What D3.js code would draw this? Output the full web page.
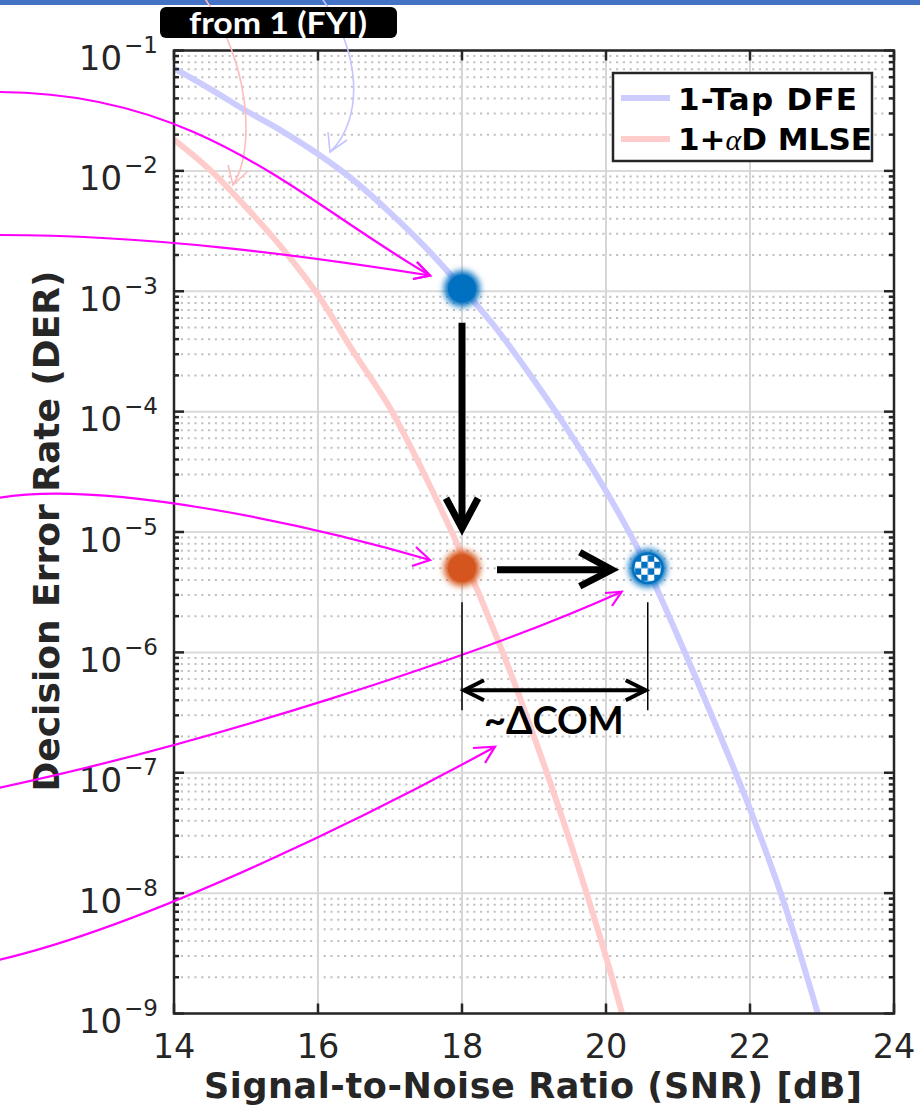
<!DOCTYPE html>
<html>
<head>
<meta charset="utf-8">
<script src="https://cdn.jsdelivr.net/npm/d3@7"></script>
<style>
  html, body { margin: 0; padding: 0; background: #ffffff; }
  svg { display: block; }
</style>
</head>
<body>
<svg id="chart" width="920" height="1117"></svg>
<script>
// ---------------- DATA ----------------
const snrDFE  = [14, 14.5, 15, 15.5, 16, 16.5, 17, 17.5, 18, 18.5, 19, 19.5, 20, 20.5, 21, 21.5, 22, 22.5, 23];
const derDFE  = [7.1e-2, 4.8e-2, 3.16e-2, 2.14e-2, 1.38e-2, 8.3e-3, 4.5e-3, 2.29e-3, 1.07e-3, 4.7e-4, 1.82e-4, 6.6e-5, 2.19e-5, 6.2e-6, 1.35e-6, 2.7e-7, 5.0e-8, 7.4e-9, 7.6e-10];
const snrMLSE = [14, 14.5, 15, 15.5, 16, 16.5, 17, 17.5, 18, 18.5, 19, 19.5, 20, 20.5];
const derMLSE = [1.82e-2, 1.02e-2, 5.0e-3, 2.29e-3, 9.3e-4, 3.09e-4, 1.07e-4, 2.82e-5, 6.5e-6, 1.26e-6, 2.0e-7, 2.69e-8, 2.95e-9, 2.5e-10];
const seriesNames = ["1-Tap DFE", "1+αD MLSE"];

// highlighted operating points: [snr, der]
const pointDFE   = [18, 1.05e-3];
const pointMLSE  = [18, 5.0e-6];
const pointEquiv = [20.58, 5.0e-6];

const xTicks = [14, 16, 18, 20, 22, 24];
const yDecades = [-9, -8, -7, -6, -5, -4, -3, -2, -1];
const xLabel = "Signal-to-Noise Ratio (SNR) [dB]";
const yLabel = "Decision Error Rate (DER)";

// ---------------- LAYOUT ----------------
const svg = d3.select("#chart");
const L = 174, R = 894, T = 50.5, B = 1013.5;
const x = d3.scaleLinear().domain([14, 24]).range([L, R]);
const y = d3.scaleLog().domain([1e-9, 1e-1]).range([B, T]);
const axisCol = "#262626";
const colDFE = "#ccccff", colMLSE = "#ffcccc";

const defs = svg.append("defs");
defs.append("clipPath").attr("id", "plotclip")
  .append("rect").attr("x", L).attr("y", T).attr("width", R - L).attr("height", B - T);
const glow = defs.append("filter").attr("id", "glow")
  .attr("x", "-80%").attr("y", "-80%").attr("width", "260%").attr("height", "260%");
glow.append("feGaussianBlur").attr("stdDeviation", 3.4);
const pat = defs.append("pattern").attr("id", "checker")
  .attr("patternUnits", "userSpaceOnUse").attr("width", 13).attr("height", 13)
  .attr("x", x(pointEquiv[0]) - 6.5).attr("y", y(pointEquiv[1]) - 6.5);
pat.append("rect").attr("width", 13).attr("height", 13).attr("fill", "#ffffff");
pat.append("rect").attr("width", 6.5).attr("height", 6.5).attr("fill", "#0070c0");
pat.append("rect").attr("x", 6.5).attr("y", 6.5).attr("width", 6.5).attr("height", 6.5).attr("fill", "#0070c0");

// top ribbon
svg.append("rect").attr("x", 0).attr("y", 0).attr("width", 920).attr("height", 5).attr("fill", "#4472c4");

// ---------------- GRID ----------------
const grid = svg.append("g");
const minorVals = [];
yDecades.slice(0, -1).forEach(e => { for (let m = 2; m <= 9; m++) minorVals.push(m * Math.pow(10, e)); });
grid.selectAll(".minor").data(minorVals).join("line")
  .attr("x1", L).attr("x2", R).attr("y1", d => y(d)).attr("y2", d => y(d))
  .attr("stroke", "#c2c2c2").attr("stroke-width", 2).attr("stroke-dasharray", "2.2 4.6");
grid.selectAll(".majy").data(yDecades).join("line")
  .attr("x1", L).attr("x2", R).attr("y1", d => y(Math.pow(10, d))).attr("y2", d => y(Math.pow(10, d)))
  .attr("stroke", "#dadada").attr("stroke-width", 2);
grid.selectAll(".majx").data(xTicks).join("line")
  .attr("x1", d => x(d)).attr("x2", d => x(d)).attr("y1", T).attr("y2", B)
  .attr("stroke", "#d6d6d6").attr("stroke-width", 2);

// ---------------- CURVES ----------------
const line = d3.line().x(d => x(d[0])).y(d => y(d[1])).curve(d3.curveMonotoneX);
const curves = svg.append("g").attr("clip-path", "url(#plotclip)");
curves.append("path").datum(d3.zip(snrDFE, derDFE)).attr("d", line)
  .attr("fill", "none").attr("stroke", colDFE).attr("stroke-width", 6);
curves.append("path").datum(d3.zip(snrMLSE, derMLSE)).attr("d", line)
  .attr("fill", "none").attr("stroke", colMLSE).attr("stroke-width", 6);

// ---------------- AXES BOX & TICKS ----------------
const ax = svg.append("g").attr("stroke", axisCol).attr("stroke-width", 2.5);
ax.append("rect").attr("x", L).attr("y", T).attr("width", R - L).attr("height", B - T).attr("fill", "none");
xTicks.forEach(t => {
  ax.append("line").attr("x1", x(t)).attr("x2", x(t)).attr("y1", B).attr("y2", B - 10);
  ax.append("line").attr("x1", x(t)).attr("x2", x(t)).attr("y1", T).attr("y2", T + 10);
});
yDecades.forEach(e => {
  const yy = y(Math.pow(10, e));
  ax.append("line").attr("x1", L).attr("x2", L + 10).attr("y1", yy).attr("y2", yy);
  ax.append("line").attr("x1", R).attr("x2", R - 10).attr("y1", yy).attr("y2", yy);
});
minorVals.forEach(v => {
  const yy = y(v);
  ax.append("line").attr("x1", L).attr("x2", L + 5).attr("y1", yy).attr("y2", yy);
  ax.append("line").attr("x1", R).attr("x2", R - 5).attr("y1", yy).attr("y2", yy);
});

// tick labels
const fontTick = "'DejaVu Sans', sans-serif";
svg.append("g").selectAll("text").data(xTicks).join("text")
  .attr("x", d => x(d)).attr("y", 1058).attr("text-anchor", "middle")
  .attr("font-family", fontTick).attr("font-size", 33.5).attr("fill", axisCol)
  .text(d => d);
const yl = svg.append("g").selectAll("text").data(yDecades).join("text")
  .attr("x", 158).attr("y", d => y(Math.pow(10, d)) + 19.5).attr("text-anchor", "end")
  .attr("font-family", fontTick).attr("fill", axisCol);
yl.append("tspan").attr("font-size", 34).text("10");
yl.append("tspan").attr("font-size", 23).attr("dy", -17).attr("dx", 2).text(d => "\u2212" + Math.abs(d));

// axis labels
svg.append("text").attr("x", (L + R) / 2 - 1).attr("y", 1098).attr("text-anchor", "middle")
  .attr("font-family", fontTick).attr("font-weight", "bold").attr("font-size", 35).attr("fill", axisCol)
  .attr("textLength", 658).attr("lengthAdjust", "spacing")
  .text(xLabel);
svg.append("text").attr("transform", "translate(59,531) rotate(-90)").attr("text-anchor", "middle")
  .attr("font-family", fontTick).attr("font-weight", "bold").attr("font-size", 36).attr("fill", axisCol)
  .text(yLabel);

// ---------------- LEGEND ----------------
const lg = svg.append("g");
lg.append("rect").attr("x", 613).attr("y", 73).attr("width", 259).attr("height", 88)
  .attr("fill", "#ffffff").attr("stroke", axisCol).attr("stroke-width", 2.5);
[[colDFE, 98], [colMLSE, 139]].forEach(([c, yy]) => {
  lg.append("line").attr("x1", 621).attr("x2", 670).attr("y1", yy).attr("y2", yy)
    .attr("stroke", c).attr("stroke-width", 6);
});
lg.append("text").attr("x", 678).attr("y", 110).attr("font-family", fontTick).attr("font-weight", "bold")
  .attr("font-size", 31).attr("fill", "#000")
  .attr("textLength", 179).attr("lengthAdjust", "spacing").text(seriesNames[0]);
const t2 = lg.append("text").attr("x", 678).attr("y", 150).attr("font-family", fontTick).attr("font-weight", "bold")
  .attr("font-size", 31).attr("fill", "#000");
t2.append("tspan").text("1+");
t2.append("tspan").attr("font-family", "'Liberation Serif', 'DejaVu Serif', serif").attr("font-style", "italic")
  .attr("font-weight", "normal").attr("font-size", 30).text("α");
t2.append("tspan").text("D MLSE");

// ---------------- ANNOTATIONS (layout, px) ----------------
const ann = svg.append("g").attr("fill", "none");
function bez(p) {
  const pth = d3.path();
  pth.moveTo(p[0][0], p[0][1]);
  pth.bezierCurveTo(p[1][0], p[1][1], p[2][0], p[2][1], p[3][0], p[3][1]);
  return pth.toString();
}
function callout(ctrl, arms, color, width) {
  ann.append("path").attr("d", bez(ctrl)).attr("stroke", color).attr("stroke-width", width);
  const tip = ctrl[3];
  ann.append("path").attr("d", d3.line()([arms[0], tip, arms[1]]))
    .attr("stroke", color).attr("stroke-width", width).attr("stroke-linejoin", "miter");
}
// thin arrows from above ("from 1")
callout([[203, -4], [250, 60], [256, 150], [233, 185]], [[228, 165], [248, 171]], "#ffbcbc", 1.6);
callout([[320, -4], [362, 50], [364, 120], [330, 152]], [[328, 132], [347, 140]], "#c4c4ff", 1.6);

// label box
svg.append("rect").attr("x", 160).attr("y", 7).attr("width", 237).attr("height", 31).attr("rx", 6).attr("fill", "#000");
svg.append("text").attr("x", 278).attr("y", 33.5).attr("text-anchor", "middle")
  .attr("font-family", "Lato, 'Open Sans', sans-serif").attr("font-weight", "bold").attr("font-size", 31)
  .attr("textLength", 178).attr("lengthAdjust", "spacingAndGlyphs")
  .attr("fill", "#fff").text("from 1 (FYI)");

// magenta callouts from the left
const mag = "#ff00ff";
callout([[-2, 92], [200, 92], [300, 200], [430, 275.5]], [[417, 262], [413, 279]], mag, 2.2);
callout([[-2, 235], [150, 235], [300, 255], [430, 275.5]], [[417, 262], [413, 279]], mag, 2.2);
callout([[-2, 498], [100, 480], [300, 522], [430, 560]], [[416, 547], [412, 566]], mag, 2.2);
callout([[-2, 788], [200, 745], [470, 660], [621.7, 591.7]], [[605, 593], [612, 606]], mag, 2.2);
callout([[-2, 960], [150, 925], [380, 810], [495, 746.7]], [[473, 748], [485, 763]], mag, 2.2);

// ---------------- HIGHLIGHTED POINTS ----------------
const pts = svg.append("g");
function solidPoint(p, color) {
  pts.append("circle").attr("cx", x(p[0])).attr("cy", y(p[1])).attr("r", 18).attr("fill", color).attr("filter", "url(#glow)");
  pts.append("circle").attr("cx", x(p[0])).attr("cy", y(p[1])).attr("r", 14).attr("fill", color);
}
solidPoint(pointDFE, "#0070c0");
solidPoint(pointMLSE, "#d4561e");
pts.append("circle").attr("cx", x(pointEquiv[0])).attr("cy", y(pointEquiv[1])).attr("r", 19).attr("fill", "#0070c0").attr("filter", "url(#glow)");
pts.append("circle").attr("cx", x(pointEquiv[0])).attr("cy", y(pointEquiv[1])).attr("r", 16).attr("fill", "#0070c0");
pts.append("circle").attr("cx", x(pointEquiv[0])).attr("cy", y(pointEquiv[1])).attr("r", 13.5).attr("fill", "url(#checker)");

// ---------------- BLACK ARROWS ----------------
const blk = svg.append("g").attr("fill", "none").attr("stroke", "#000");
const xa = x(pointDFE[0]), ya = y(pointDFE[1]);
const xb = x(pointMLSE[0]), yb = y(pointMLSE[1]);
const xc = x(pointEquiv[0]);
// down arrow
blk.append("line").attr("x1", xa).attr("x2", xa).attr("y1", ya + 34).attr("y2", yb - 40).attr("stroke-width", 7);
blk.append("path").attr("d", d3.line()([[xa - 16, yb - 70], [xa, yb - 40], [xa + 16, yb - 70]])).attr("stroke-width", 7);
// right arrow
blk.append("line").attr("x1", xb + 35).attr("x2", xc - 36).attr("y1", yb + 1.5).attr("y2", yb + 1.5).attr("stroke-width", 7);
blk.append("path").attr("d", d3.line()([[xc - 68, yb - 16], [xc - 36, yb + 1.5], [xc - 68, yb + 18]])).attr("stroke-width", 7);
// ΔCOM dimension
[xb, xc].forEach(xx => blk.append("line").attr("x1", xx).attr("x2", xx).attr("y1", yb + 34).attr("y2", yb + 142).attr("stroke-width", 1.5));
const yd = yb + 122;
blk.append("line").attr("x1", xb + 2).attr("x2", xc - 2).attr("y1", yd).attr("y2", yd).attr("stroke-width", 4);
blk.append("path").attr("d", d3.line()([[xb + 22, yd - 10], [xb + 2, yd], [xb + 22, yd + 10]])).attr("stroke-width", 4);
blk.append("path").attr("d", d3.line()([[xc - 22, yd - 10], [xc - 2, yd], [xc - 22, yd + 10]])).attr("stroke-width", 4);
svg.append("text").attr("x", (xb + xc) / 2 - 1).attr("y", yb + 166).attr("text-anchor", "middle")
  .attr("font-family", "Lato, 'Open Sans', sans-serif").attr("font-weight", "bold").attr("font-size", 38)
  .attr("fill", "#000").text("~ΔCOM");
</script>
</body>
</html>
